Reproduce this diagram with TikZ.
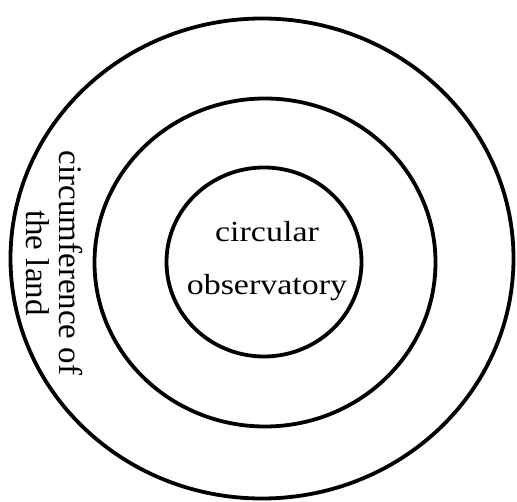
\documentclass[tikz,border=0pt]{standalone}
\usepackage{fontspec}
\setmainfont{Liberation Serif}
\usepackage{tikz}
\usetikzlibrary{positioning,shapes.geometric}

\begin{document}
\begin{tikzpicture}[x=1pt, y=-1pt, semithick, every node/.style={inner sep=0pt, outer sep=0pt}]
    \tikzstyle{ring}=[ellipse, draw=black, line width=3.8pt]
    \tikzstyle{label}=[font=\fontsize{33}{33}\selectfont, align=center]
    \useasboundingbox (0,0) rectangle (517,502);

    % Concentric rings
    \node[ring, minimum width=503, minimum height=480] (land) at (262,258.5) {};
    \node[ring, minimum width=341, minimum height=328] (middle) at (265,262.5) {};
    \node[ring, minimum width=195, minimum height=189] (observ) at (264,262) {};

    % Labels (base = last line)
    \node[label, anchor=base, xscale=1.03, yscale=0.88, font=\fontsize{33}{60.5}\selectfont] (obstext) at (267,295) {circular\\observatory};
    \node[label, anchor=base, rotate=-90] (landtext) at (27,263) {circumference of\\the land};
\end{tikzpicture}
\end{document}
